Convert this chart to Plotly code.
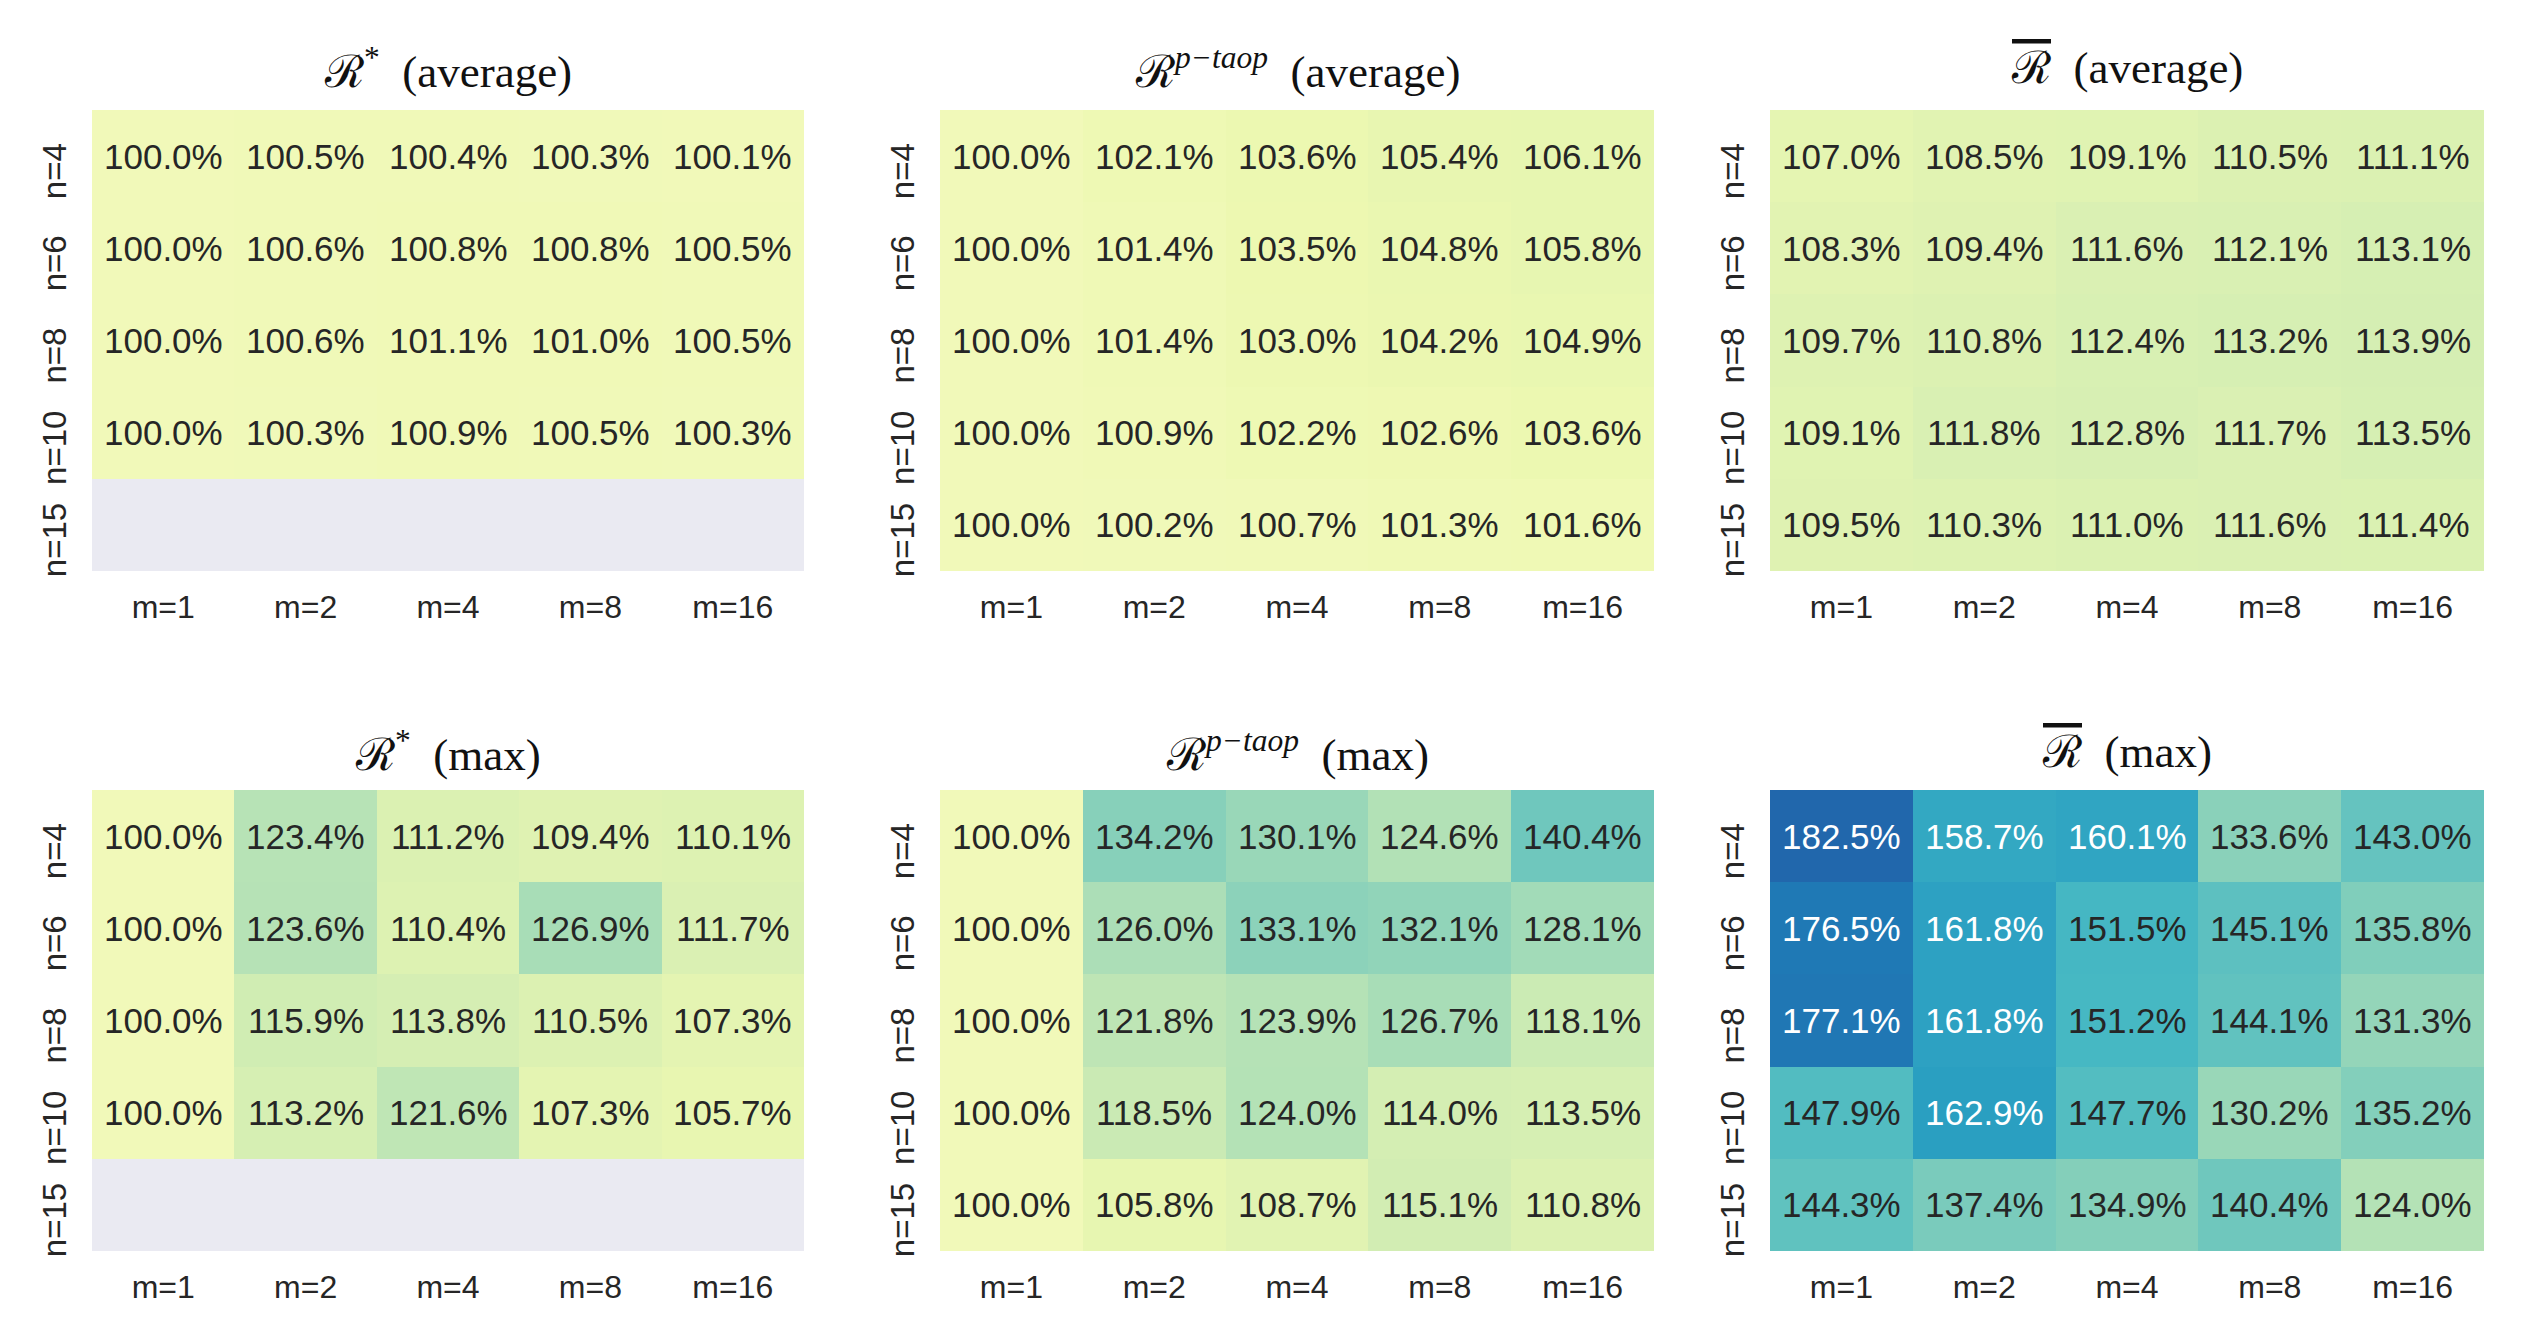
import plotly.graph_objects as go

m_labels = ["m=1", "m=2", "m=4", "m=8", "m=16"]
n_labels = ["n=4", "n=6", "n=8", "n=10", "n=15"]
N = None

r_star_avg = [
    [100.0, 100.5, 100.4, 100.3, 100.1],
    [100.0, 100.6, 100.8, 100.8, 100.5],
    [100.0, 100.6, 101.1, 101.0, 100.5],
    [100.0, 100.3, 100.9, 100.5, 100.3],
    [N, N, N, N, N],
]
r_ptaop_avg = [
    [100.0, 102.1, 103.6, 105.4, 106.1],
    [100.0, 101.4, 103.5, 104.8, 105.8],
    [100.0, 101.4, 103.0, 104.2, 104.9],
    [100.0, 100.9, 102.2, 102.6, 103.6],
    [100.0, 100.2, 100.7, 101.3, 101.6],
]
r_bar_avg = [
    [107.0, 108.5, 109.1, 110.5, 111.1],
    [108.3, 109.4, 111.6, 112.1, 113.1],
    [109.7, 110.8, 112.4, 113.2, 113.9],
    [109.1, 111.8, 112.8, 111.7, 113.5],
    [109.5, 110.3, 111.0, 111.6, 111.4],
]
r_star_max = [
    [100.0, 123.4, 111.2, 109.4, 110.1],
    [100.0, 123.6, 110.4, 126.9, 111.7],
    [100.0, 115.9, 113.8, 110.5, 107.3],
    [100.0, 113.2, 121.6, 107.3, 105.7],
    [N, N, N, N, N],
]
r_ptaop_max = [
    [100.0, 134.2, 130.1, 124.6, 140.4],
    [100.0, 126.0, 133.1, 132.1, 128.1],
    [100.0, 121.8, 123.9, 126.7, 118.1],
    [100.0, 118.5, 124.0, 114.0, 113.5],
    [100.0, 105.8, 108.7, 115.1, 110.8],
]
r_bar_max = [
    [182.5, 158.7, 160.1, 133.6, 143.0],
    [176.5, 161.8, 151.5, 145.1, 135.8],
    [177.1, 161.8, 151.2, 144.1, 131.3],
    [147.9, 162.9, 147.7, 130.2, 135.2],
    [144.3, 137.4, 134.9, 140.4, 124.0],
]

RBAR = '<span style="text-decoration:overline">ℛ</span>'
titles = [
    "ℛ<sup>*</sup>  (average)",
    "ℛ<sup><i>p−taop</i></sup>  (average)",
    RBAR + "  (average)",
    "ℛ<sup>*</sup>  (max)",
    "ℛ<sup><i>p−taop</i></sup>  (max)",
    RBAR + "  (max)",
]
panels = [r_star_avg, r_ptaop_avg, r_bar_avg, r_star_max, r_ptaop_max, r_bar_max]

ylgnbu = [
    [0.0, "#ffffd9"], [0.125, "#edf8b1"], [0.25, "#c7e9b4"], [0.375, "#7fcdbb"],
    [0.5, "#41b6c4"], [0.625, "#1d91c0"], [0.75, "#225ea8"], [0.875, "#253494"],
    [1.0, "#081d58"],
]
ZMIN, ZMAX = 87, 218

PAGE_W, PAGE_H = 2537, 1338
OFF = 8  # body margin of the html page
W, H = PAGE_W - 2 * OFF, PAGE_H - 2 * OFF


def fx(px):
    return (px - OFF) / W


def fy(py):
    return 1 - (py - OFF) / H


xdoms = [(fx(92), fx(804)), (fx(940), fx(1654)), (fx(1770), fx(2484))]
ydoms = [(fy(571), fy(110)), (fy(1251), fy(790))]
title_y = [fy(68), fy(752)]

fig = go.Figure()
annotations = []
for i, (z, t) in enumerate(zip(panels, titles)):
    r, c = divmod(i, 3)
    k = "" if i == 0 else str(i + 1)
    fig.add_trace(go.Heatmap(
        z=z, x=m_labels, y=n_labels, colorscale=ylgnbu, zmin=ZMIN, zmax=ZMAX,
        showscale=False, xaxis="x" + k, yaxis="y" + k, hoverongaps=False,
    ))
    fig.layout["xaxis" + k] = dict(
        domain=list(xdoms[c]), anchor="y" + k, type="category", automargin=False,
        showgrid=False, zeroline=False, showline=False,
        ticks="outside", ticklen=8, tickcolor="rgba(0,0,0,0)",
        tickfont=dict(family="Liberation Sans, Arial", size=32, color="#262626"),
    )
    fig.layout["yaxis" + k] = dict(
        domain=list(ydoms[r]), anchor="x" + k, type="category", automargin=False,
        autorange="reversed", showgrid=False, zeroline=False, showline=False,
        ticks="outside", ticklen=12, tickcolor="rgba(0,0,0,0)", tickangle=-90,
        ticklabelshift=-20,
        tickfont=dict(family="Liberation Sans, Arial", size=33, color="#262626"),
    )
    for yi, row in enumerate(z):
        for xi, v in enumerate(row):
            if v is None:
                continue
            annotations.append(dict(
                x=m_labels[xi], y=n_labels[yi], xref="x" + k, yref="y" + k,
                text=f"{v:.1f}%", showarrow=False,
                font=dict(family="Liberation Sans, Arial", size=35,
                          color="#ffffff" if v > 155 else "#262626"),
            ))
    annotations.append(dict(
        x=(xdoms[c][0] + xdoms[c][1]) / 2, y=title_y[r], xref="paper", yref="paper",
        text=t, showarrow=False, xanchor="center", yanchor="middle",
        font=dict(family="Liberation Serif, DejaVu Serif, serif", size=45, color="#111111"),
    ))

fig.update_layout(
    width=W, height=H, margin=dict(l=0, r=0, t=0, b=0),
    paper_bgcolor="white", plot_bgcolor="#eaeaf2",
    annotations=annotations, showlegend=False,
)
fig.write_html("out.html")
